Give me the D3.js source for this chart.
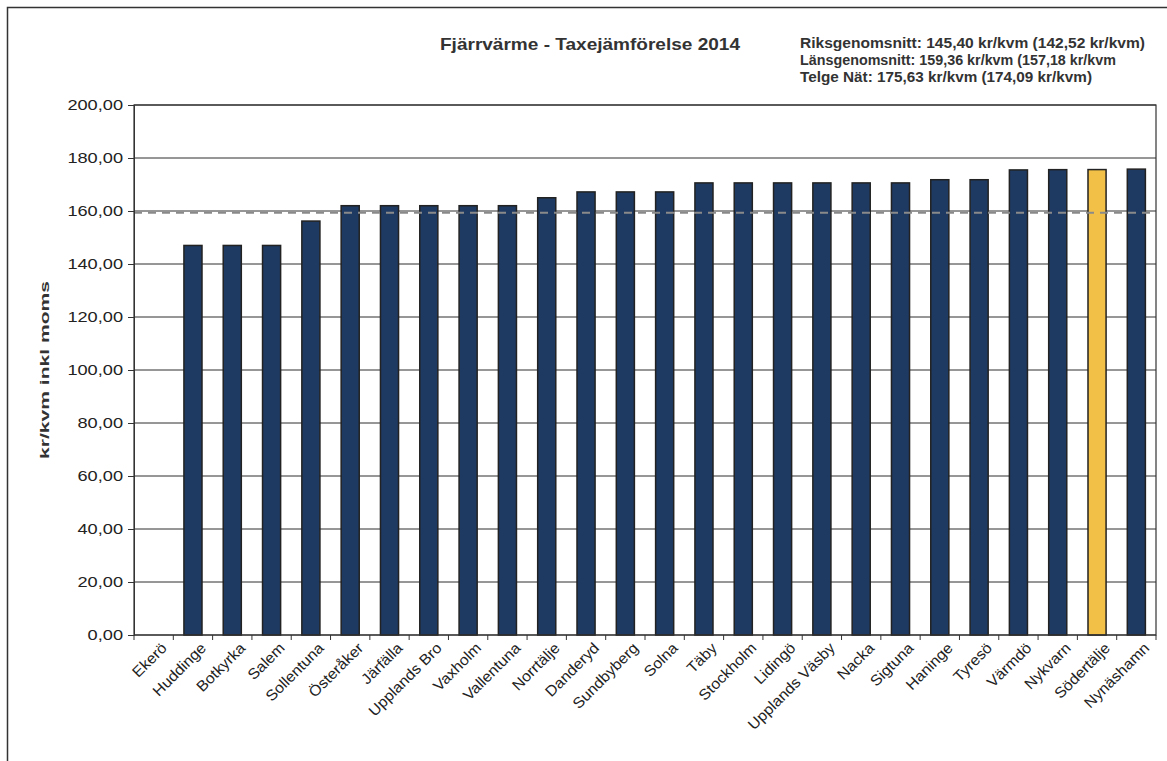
<!DOCTYPE html>
<html>
<head>
<meta charset="utf-8">
<script src="https://cdn.jsdelivr.net/npm/d3@7"></script>
<style>
  body { margin: 0; background: #fff; }
  svg { display: block; font-family: "Liberation Sans", Arial, sans-serif; }
</style>
</head>
<body>
<svg id="chart" width="1167" height="761"></svg>
<script>
const municipalities = ["Ekerö", "Huddinge", "Botkyrka", "Salem", "Sollentuna", "Österåker", "Järfälla",
  "Upplands Bro", "Vaxholm", "Vallentuna", "Norrtälje", "Danderyd", "Sundbyberg", "Solna", "Täby",
  "Stockholm", "Lidingö", "Upplands Väsby", "Nacka", "Sigtuna", "Haninge", "Tyresö", "Värmdö",
  "Nykvarn", "Södertälje", "Nynäshamn"];
const prices = [0, 147.0, 147.0, 147.0, 156.2, 162.0, 162.0, 162.0, 162.0, 162.0, 165.0, 167.2, 167.2,
  167.2, 170.6, 170.6, 170.6, 170.6, 170.6, 170.6, 171.8, 171.8, 175.5, 175.6, 175.63, 175.8];
const highlighted = "Södertälje";
const countyAverage = 159.36;
const yTicks = [0, 20, 40, 60, 80, 100, 120, 140, 160, 180, 200];
const infoLines = ["Riksgenomsnitt: 145,40 kr/kvm (142,52 kr/kvm)",
  "Länsgenomsnitt: 159,36 kr/kvm (157,18 kr/kvm",
  "Telge Nät:  175,63 kr/kvm (174,09 kr/kvm)"];
const infoWidths = [345, 316, 292];

const svg = d3.select("#chart");
const margin = { left: 134, right: 1156, top: 105, bottom: 635 };

// outer frame of the scanned chart
svg.append("rect")
  .attr("x", 7.5).attr("y", 7.5)
  .attr("width", 1170).attr("height", 760)
  .attr("fill", "none").attr("stroke", "#333").attr("stroke-width", 1.5);

const x = d3.scaleBand()
  .domain(municipalities)
  .range([margin.left, margin.right])
  .paddingInner(0.54)
  .paddingOuter(0.27);

const y = d3.scaleLinear().domain([0, 200]).range([margin.bottom, margin.top]);

const fmt = v => d3.format(".2f")(v).replace(".", ",");

// grid lines
svg.append("g")
  .selectAll("line")
  .data(yTicks)
  .join("line")
  .attr("x1", margin.left).attr("x2", margin.right)
  .attr("y1", d => y(d)).attr("y2", d => y(d))
  .attr("stroke", "#2e2e2e").attr("stroke-width", 1);

// bars
svg.append("g")
  .selectAll("rect")
  .data(municipalities.map((m, i) => ({ name: m, value: prices[i] })).filter(d => d.value > 0))
  .join("rect")
  .attr("x", d => x(d.name))
  .attr("y", d => y(d.value))
  .attr("width", x.bandwidth())
  .attr("height", d => y(0) - y(d.value))
  .attr("fill", d => d.name === highlighted ? "#f2c046" : "#1f3a62")
  .attr("stroke", "#222")
  .attr("stroke-width", 1.5);

// county average line
svg.append("line")
  .attr("x1", margin.left).attr("x2", margin.right)
  .attr("y1", y(countyAverage)).attr("y2", y(countyAverage))
  .attr("stroke", "#8a8a8a").attr("stroke-width", 2)
  .attr("stroke-dasharray", "8,6");

// plot frame
svg.append("rect")
  .attr("x", margin.left).attr("y", margin.top)
  .attr("width", margin.right - margin.left).attr("height", margin.bottom - margin.top)
  .attr("fill", "none").attr("stroke", "#333").attr("stroke-width", 1.2);

// y axis (labels drawn separately, the scan is stretched sideways)
const yAxis = svg.append("g")
  .attr("transform", `translate(${margin.left},0)`)
  .call(d3.axisLeft(y).tickValues(yTicks).tickFormat("").tickSize(6));
yAxis.select(".domain").attr("stroke", "#333");
yAxis.selectAll(".tick line").attr("stroke", "#333");

svg.append("g")
  .selectAll("text")
  .data(yTicks)
  .join("text")
  .attr("transform", d => `translate(123,${y(d) + 5}) scale(1.3,1)`)
  .attr("text-anchor", "end")
  .attr("font-size", 14)
  .attr("fill", "#222")
  .text(fmt);

// x axis: ticks at band boundaries
const boundaries = d3.range(municipalities.length + 1).map(i => margin.left + i * (margin.right - margin.left) / municipalities.length);
svg.append("g")
  .selectAll("line")
  .data(boundaries)
  .join("line")
  .attr("x1", d => d).attr("x2", d => d)
  .attr("y1", margin.bottom).attr("y2", margin.bottom + 5)
  .attr("stroke", "#333");

svg.append("g")
  .selectAll("text")
  .data(municipalities)
  .join("text")
  .attr("transform", d => `translate(${x(d) + x.bandwidth() / 2 + 14},${margin.bottom + 14}) rotate(-45)`)
  .attr("text-anchor", "end")
  .attr("font-size", 15)
  .attr("fill", "#222")
  .text(d => d)
  .each(function() {
    const len = this.getComputedTextLength();
    d3.select(this).attr("textLength", len * 1.06).attr("lengthAdjust", "spacingAndGlyphs");
  });

// y axis title
svg.append("text")
  .attr("transform", `translate(49,${(margin.top + margin.bottom) / 2}) rotate(-90)`)
  .attr("text-anchor", "middle")
  .attr("font-size", 13)
  .attr("font-weight", "bold")
  .attr("fill", "#333")
  .attr("textLength", 178)
  .attr("lengthAdjust", "spacingAndGlyphs")
  .text("kr/kvm inkl moms");

// title
svg.append("text")
  .attr("x", 440).attr("y", 50)
  .attr("font-size", 17)
  .attr("font-weight", "bold")
  .attr("fill", "#333")
  .attr("textLength", 300)
  .attr("lengthAdjust", "spacingAndGlyphs")
  .text("Fjärrvärme - Taxejämförelse 2014");

// averages info
svg.append("g")
  .selectAll("text")
  .data(infoLines)
  .join("text")
  .attr("x", 800)
  .attr("y", (d, i) => 48 + i * 17)
  .attr("font-size", 14)
  .attr("font-weight", "bold")
  .attr("fill", "#333")
  .attr("textLength", (d, i) => infoWidths[i])
  .attr("lengthAdjust", "spacingAndGlyphs")
  .text(d => d);
</script>
</body>
</html>
